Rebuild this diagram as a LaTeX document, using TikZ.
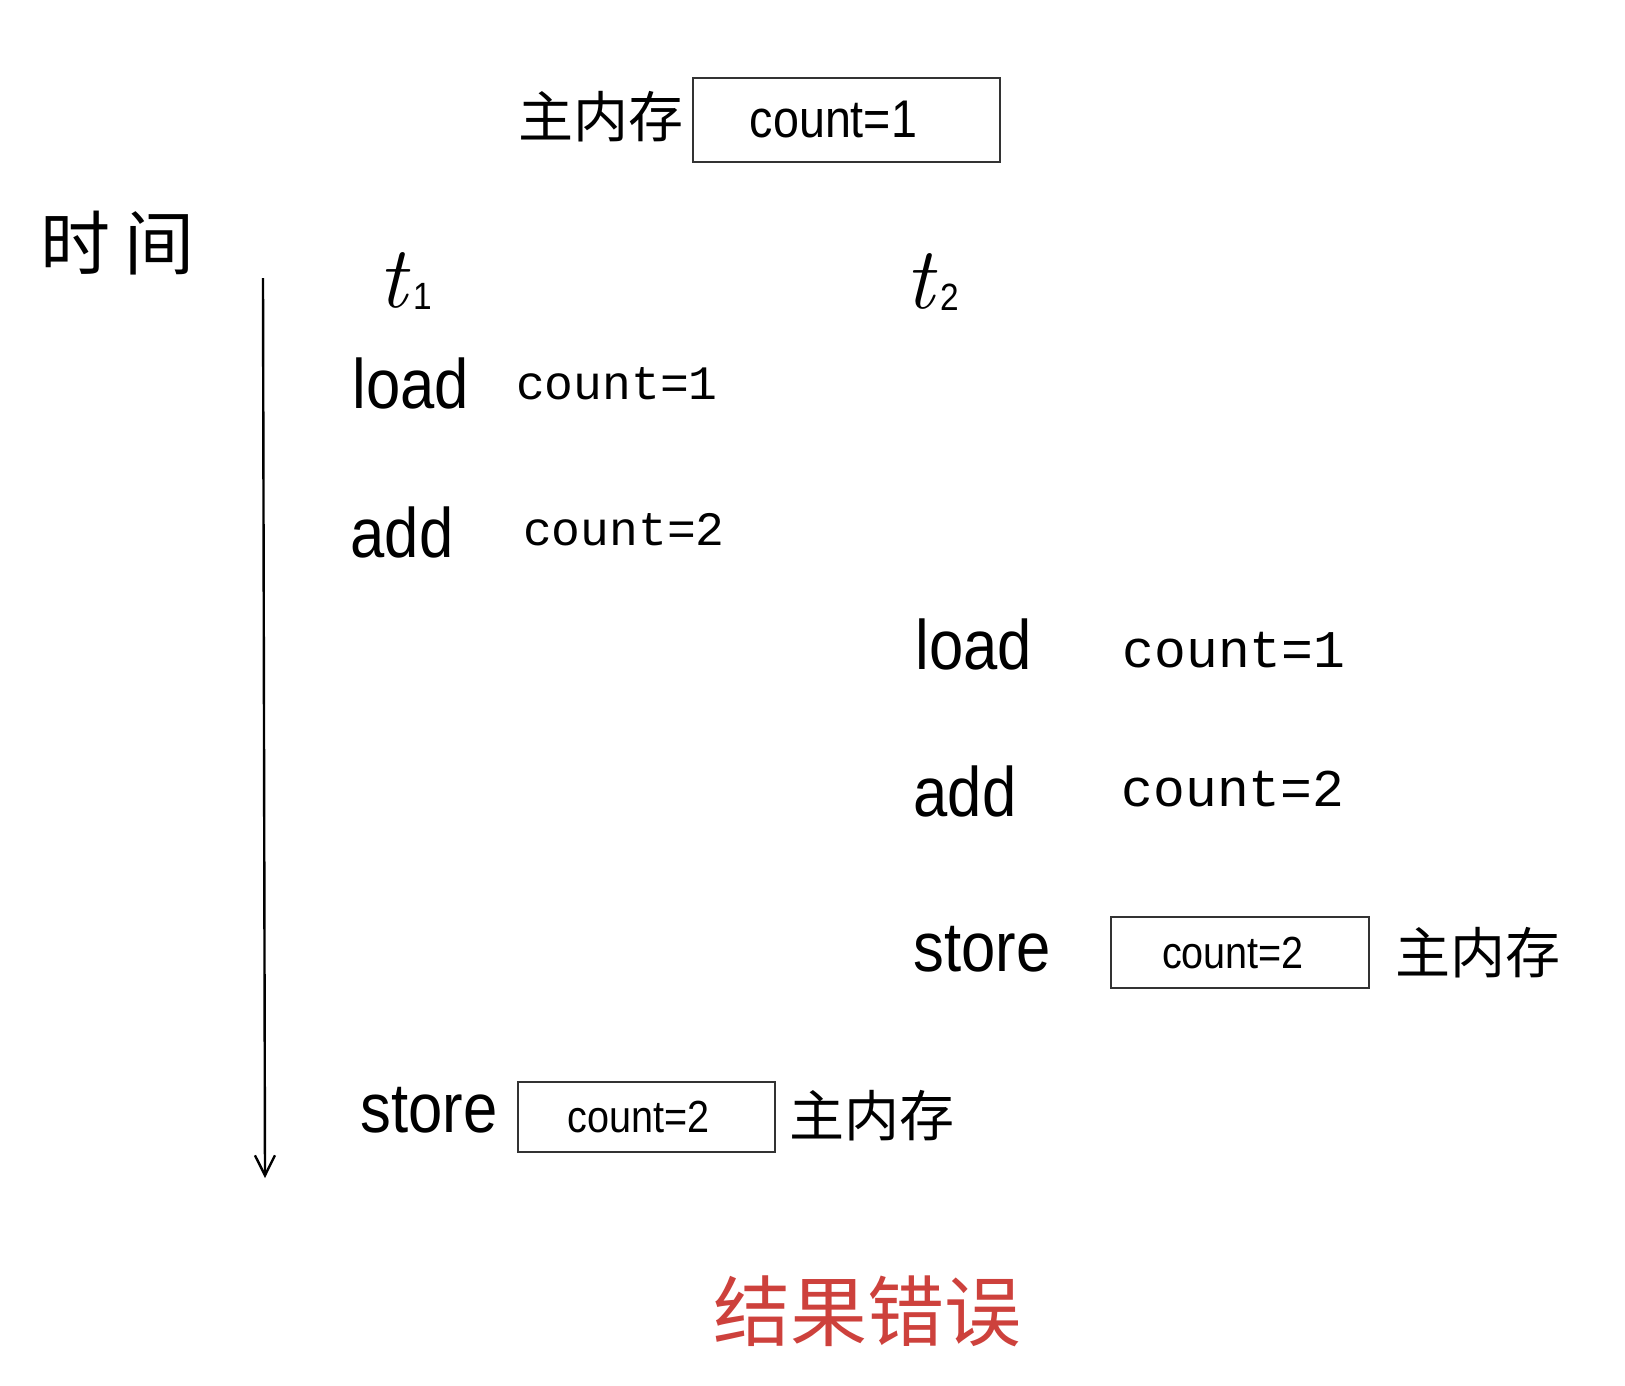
\documentclass[tikz,border=0pt]{standalone}
\usepackage{fontspec}
\usetikzlibrary{arrows.meta}
\newfontfamily\sansf[FakeStretch=0.88]{Liberation Sans}
\newfontfamily\hand{Liberation Mono}
\newfontfamily\cjk{Noto Sans CJK SC}
\definecolor{errred}{RGB}{205,65,60}
\newcommand{\tsub}[1]{{\fontsize{88}{100}\selectfont\itshape t}\hspace{6pt}\raisebox{-2pt}{\sansf\fontsize{38}{44}\selectfont #1}}
\begin{document}
\begin{tikzpicture}[x=1pt,y=-1pt,
  op/.style={font=\sansf\fontsize{70}{84}\selectfont, inner sep=0pt},
  hw/.style={font=\hand\fontsize{48}{58}\selectfont, inner sep=0pt},
  hwbig/.style={font=\hand\fontsize{53}{64}\selectfont, inner sep=0pt},
  zh/.style={font=\cjk\fontsize{55}{66}\selectfont, inner sep=0pt},
  tlab/.style={inner sep=0pt},
  membox/.style={draw=black!80, line width=1.6pt, inner sep=0pt, font=\sansf\fontsize{45}{54}\selectfont},
  timeline/.style={line width=2.4pt, -{Straight Barb[length=20pt,width=20pt,line width=2.4pt]}}]
\useasboundingbox (0,0) rectangle (1625,1385);
\fill[white] (0,0) rectangle (1625,1385);

% top: main memory
\node[zh] (mem0) at (601,117) {主内存};
\node[membox, minimum width=307pt, minimum height=84pt, font=\sansf\fontsize{53}{64}\selectfont] (box0) at (846.5,120) {\hspace*{-26pt}count=1};

% time axis
\node[zh, font=\cjk\fontsize{70}{84}\selectfont] (time) at (117,243) {时\hspace{14pt}间};
\coordinate (axtop) at (263,278);
\coordinate (axbot) at (265,1178);
\draw[timeline] (axtop) -- (axbot);

% thread labels
\node[tlab] (t1) at (405,281) {\tsub{1}};
\node[tlab] (t2) at (932,282) {\tsub{2}};

% thread 1
\node[op] (load1) at (411,383) {load};
\node[hw] (c11) at (617,384) {count=1};
\node[op] (add1) at (402,532) {add};
\node[hw] (c12) at (624,530) {count=2};

% thread 2
\node[op] (load2) at (974,644) {load};
\node[hwbig] (c21) at (1234,650) {count=1};
\node[op] (add2) at (965,791) {add};
\node[hwbig] (c22) at (1233,789) {count=2};
\node[op] (store2) at (982,949) {store};
\node[membox, minimum width=258pt, minimum height=71pt] (box2) at (1240,952.5) {\hspace*{-14pt}count=2};
\node[zh] (mem2) at (1478,953) {主内存};

% thread 1 store
\node[op] (store1) at (429,1110) {store};
\node[membox, minimum width=257pt, minimum height=70pt] (box1) at (646.5,1117) {\hspace*{-16pt}count=2};
\node[zh] (mem1) at (872,1116) {主内存};

% result
\node[zh, font=\cjk\fontsize{77}{92}\selectfont, text=errred] (res) at (867,1311) {结果错误};
\end{tikzpicture}
\end{document}
